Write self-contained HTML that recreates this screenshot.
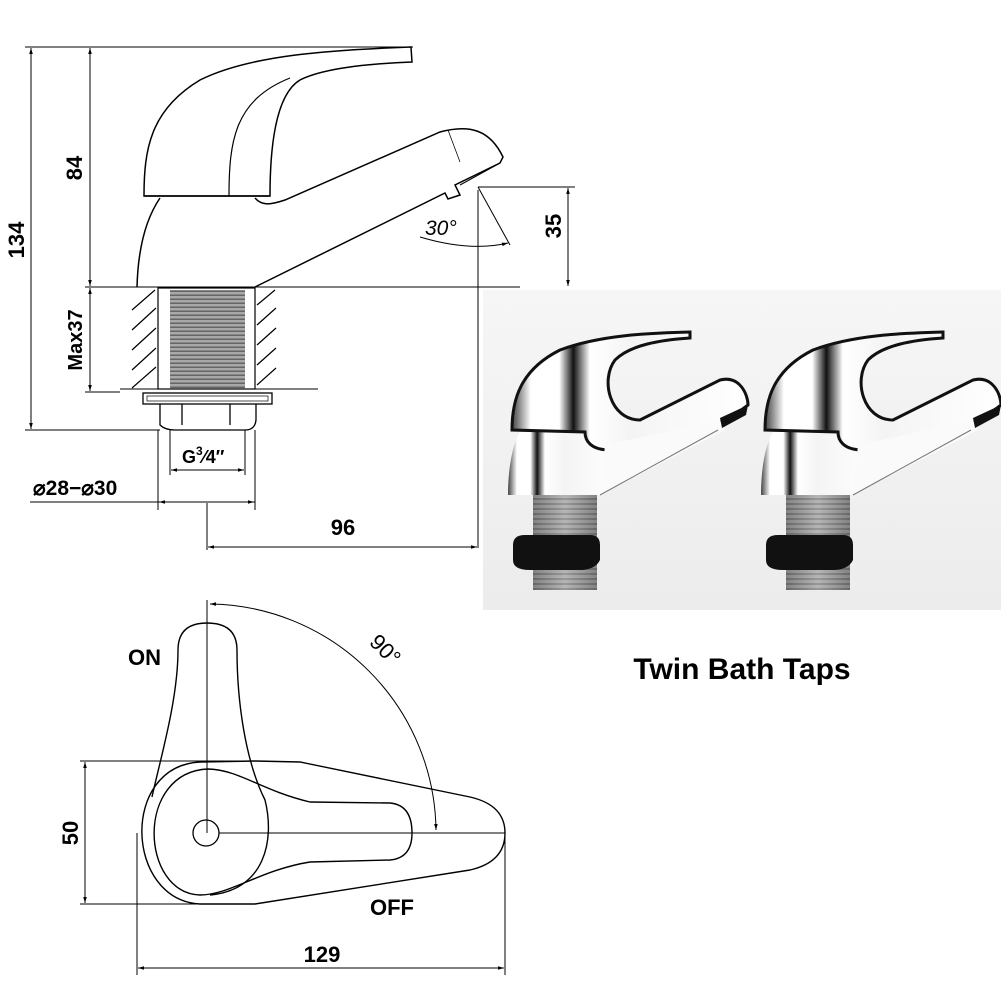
<!DOCTYPE html>
<html><head><meta charset="utf-8"><style>
html,body{margin:0;padding:0;background:#fff;}
svg{display:block;}
text{font-family:"Liberation Sans",sans-serif;}
</style></head><body>
<svg width="1001" height="1001" viewBox="0 0 1001 1001" xmlns="http://www.w3.org/2000/svg">
<defs>
<marker id="a" viewBox="0 0 10 10" refX="10" refY="5" markerWidth="9" markerHeight="6" orient="auto-start-reverse"><path d="M0,2 L10,5 L0,8 z" fill="#000"/></marker>
<pattern id="th" width="6" height="4" patternUnits="userSpaceOnUse"><rect width="6" height="4" fill="#a8a8a8"/><rect y="2.5" width="6" height="1.5" fill="#666"/></pattern>
<pattern id="th2" width="6" height="5" patternUnits="userSpaceOnUse"><rect width="6" height="5" fill="#b0b0b0"/><rect y="3" width="6" height="2" fill="#777"/></pattern>
<linearGradient id="bg" x1="0" y1="0" x2="0" y2="1"><stop offset="0" stop-color="#f6f6f6"/><stop offset="1" stop-color="#ececec"/></linearGradient>
<linearGradient id="chrome" x1="0" y1="0" x2="1" y2="0"><stop offset="0" stop-color="#444"/><stop offset="0.08" stop-color="#fff"/><stop offset="0.2" stop-color="#fff"/><stop offset="0.26" stop-color="#111"/><stop offset="0.33" stop-color="#fff"/><stop offset="0.5" stop-color="#f4f4f4"/><stop offset="1" stop-color="#fff"/></linearGradient>
<linearGradient id="thr" x1="0" y1="0" x2="1" y2="0"><stop offset="0" stop-color="#555"/><stop offset="0.5" stop-color="#bbb"/><stop offset="1" stop-color="#555"/></linearGradient>
</defs>
<g fill="none" stroke="#000" stroke-width="1.3">
<line x1="25" y1="47" x2="413" y2="47" stroke-width="1"/>
<line x1="85" y1="287" x2="520" y2="287" stroke-width="1"/>
<line x1="25" y1="430" x2="160" y2="430" stroke-width="1"/>
<line x1="85" y1="392" x2="120" y2="392" stroke-width="1"/>
<line x1="478" y1="187" x2="575" y2="187" stroke-width="1"/>
<line x1="478" y1="190" x2="478" y2="548" stroke-width="1"/>
<line x1="207" y1="503" x2="207" y2="550" stroke-width="1"/>
<line x1="158" y1="430" x2="158" y2="510" stroke-width="1"/>
<line x1="255" y1="430" x2="255" y2="510" stroke-width="1"/>
<line x1="170" y1="430" x2="170" y2="475" stroke-width="1"/>
<line x1="245" y1="430" x2="245" y2="475" stroke-width="1"/>
<line x1="31" y1="48" x2="31" y2="429" marker-start="url(#a)" marker-end="url(#a)" stroke-width="1"/>
<line x1="90" y1="48" x2="90" y2="286" marker-start="url(#a)" marker-end="url(#a)" stroke-width="1"/>
<line x1="90" y1="288" x2="90" y2="391" marker-start="url(#a)" marker-end="url(#a)" stroke-width="1"/>
<line x1="568" y1="188" x2="568" y2="286" marker-start="url(#a)" marker-end="url(#a)" stroke-width="1"/>
<line x1="171" y1="470" x2="244" y2="470" marker-start="url(#a)" marker-end="url(#a)" stroke-width="1"/>
<line x1="30" y1="502" x2="255" y2="502" stroke-width="1"/>
<line x1="159" y1="502" x2="254" y2="502" marker-start="url(#a)" marker-end="url(#a)" stroke-width="1"/>
<line x1="208" y1="547" x2="477" y2="547" marker-start="url(#a)" marker-end="url(#a)" stroke-width="1"/>
<line x1="478" y1="187" x2="510" y2="245" stroke-width="1"/>
<path d="M420,237 Q470,252 508,243" stroke-width="1" marker-end="url(#a)"/>
<path d="M144,196 C144,150 150,110 200,80 C250,55 330,50 411,47 L412,62 C360,64 320,70 300,80 C275,95 270,150 270,196 Z" stroke-width="1.5"/>
<line x1="144" y1="196" x2="270" y2="196" stroke-width="1.5"/>
<path d="M229,196 C229,140 235,100 290,78" stroke-width="1.2"/>
<path d="M137,287 C138,250 145,220 160,198" stroke-width="1.5"/>
<path d="M255,198 C262,206 270,205 285,200 L440,132 C470,124 490,130 503,157 L500,163 L455,185 L460,195 L448,199 L445,193 L255,287" stroke-width="1.5"/>
<line x1="500" y1="163" x2="460" y2="185" stroke-width="1"/>
<line x1="448" y1="130" x2="460" y2="162" stroke-width="0.8"/>
<rect x="158" y="288" width="97" height="101" stroke-width="1.2"/>
<rect x="170" y="290" width="75" height="99" fill="url(#th)" stroke="none"/>
<g stroke-width="1.2">
<line x1="132" y1="310" x2="155" y2="290"/><line x1="132" y1="330" x2="156" y2="308"/><line x1="132" y1="350" x2="156" y2="328"/><line x1="132" y1="370" x2="156" y2="348"/><line x1="132" y1="388" x2="156" y2="367"/>
<line x1="257" y1="305" x2="275" y2="290"/><line x1="257" y1="325" x2="276" y2="308"/><line x1="257" y1="345" x2="276" y2="328"/><line x1="257" y1="365" x2="276" y2="348"/><line x1="257" y1="385" x2="276" y2="368"/>
</g>
<line x1="120" y1="389" x2="318" y2="389" stroke-width="1"/>
<rect x="143" y="393" width="129" height="11" stroke-width="1.3"/>
<rect x="147" y="396" width="121" height="5" stroke-width="0.7"/>
<path d="M160,404 L160,425 Q165,430 175,430 L245,430 Q255,430 256,420 L256,404" stroke-width="1.3"/>
<line x1="182" y1="404" x2="182" y2="425"/><line x1="230" y1="404" x2="230" y2="425"/>
<line x1="207" y1="600" x2="207" y2="833" stroke-width="1"/>
<path d="M210,604 A229,229 0 0 1 436,830" stroke-width="1" marker-start="url(#a)" marker-end="url(#a)"/>
<line x1="219" y1="833" x2="505" y2="833" stroke-width="1"/>
<circle cx="206" cy="833" r="13" stroke-width="1.3"/>
<path d="M255,761 L300,762 L470,797 Q505,805 505,833 Q505,862 470,870 L255,904 L200,904 C125,900 120,766 200,762 Z" stroke-width="1.4"/>
<path d="M208,769 C240,770 260,790 310,802 L390,803 Q412,805 412,833 Q412,858 390,860 L310,862 C260,870 230,895 200,895 C140,893 135,772 208,769" stroke-width="1.4"/>
<path d="M152,797 C160,760 178,700 178,650 Q178,623 207,623 Q237,623 237,650 C237,700 245,760 265,800 C275,840 265,890 210,895" stroke-width="1.4"/>
<line x1="80" y1="761" x2="255" y2="761" stroke-width="1"/>
<line x1="80" y1="904" x2="255" y2="904" stroke-width="1"/>
<line x1="85" y1="762" x2="85" y2="903" marker-start="url(#a)" marker-end="url(#a)" stroke-width="1"/>
<line x1="137" y1="833" x2="137" y2="975" stroke-width="1"/>
<line x1="505" y1="833" x2="505" y2="975" stroke-width="1"/>
<line x1="138" y1="968" x2="504" y2="968" marker-start="url(#a)" marker-end="url(#a)" stroke-width="1"/>
</g>
<g fill="#000" font-size="22" font-weight="bold">
<text transform="translate(24,240) rotate(-90)" text-anchor="middle">134</text>
<text transform="translate(82,168) rotate(-90)" text-anchor="middle">84</text>
<text transform="translate(82,340) rotate(-90)" text-anchor="middle" font-size="20">Max37</text>
<text transform="translate(561,226) rotate(-90)" text-anchor="middle">35</text>
<text x="182" y="463" font-size="18">G<tspan font-size="12" dy="-8">3</tspan><tspan dy="8">⁄4″</tspan></text>
<text x="33" y="495" font-size="21">⌀28−⌀30</text>
<text x="343" y="535" text-anchor="middle">96</text>
<text x="425" y="235" font-style="italic" font-weight="normal" font-size="21">30°</text>
<text x="128" y="665">ON</text>
<text transform="translate(380,655) rotate(45)" text-anchor="middle" font-weight="normal">90°</text>
<text x="370" y="915">OFF</text>
<text x="322" y="962" text-anchor="middle">129</text>
<text transform="translate(78,833) rotate(-90)" text-anchor="middle">50</text>
</g>
<rect x="483" y="290" width="518" height="320" fill="url(#bg)"/>
<g id="tap">
<rect x="533" y="495" width="64" height="95" fill="url(#th2)"/>
<rect x="533" y="495" width="64" height="95" fill="url(#thr)" opacity="0.5"/>
<path d="M513,545 Q513,535 525,535 L590,535 Q600,535 600,545 L600,560 Q595,570 580,570 L530,570 Q513,570 513,560 Z" fill="#111"/>
<path d="M508,495 C508,470 512,445 520,432 L600,430 C605,440 610,460 620,470 L600,495 Z" fill="url(#chrome)"/>
<path d="M512,430 C512,400 520,370 560,350 C600,335 650,333 690,332 L690,338 C660,340 630,345 615,360 C600,380 610,420 640,420 L720,380 C740,375 748,395 748,405 L728,420 L610,450 C590,450 585,440 585,432 Z" fill="url(#chrome)" stroke="#111" stroke-width="3"/>
<path d="M605,445 L720,420 L725,430 L600,495 Z" fill="#fafafa"/>
<path d="M720,418 L748,405 L746,415 L722,428 Z" fill="#111"/>
<line x1="600" y1="495" x2="718" y2="430" stroke="#777" stroke-width="1"/>
</g>
<use href="#tap" transform="translate(253,0)"/>
<text x="742" y="679" text-anchor="middle" font-size="30" font-weight="bold" fill="#000">Twin Bath Taps</text>
</svg>
</body></html>
